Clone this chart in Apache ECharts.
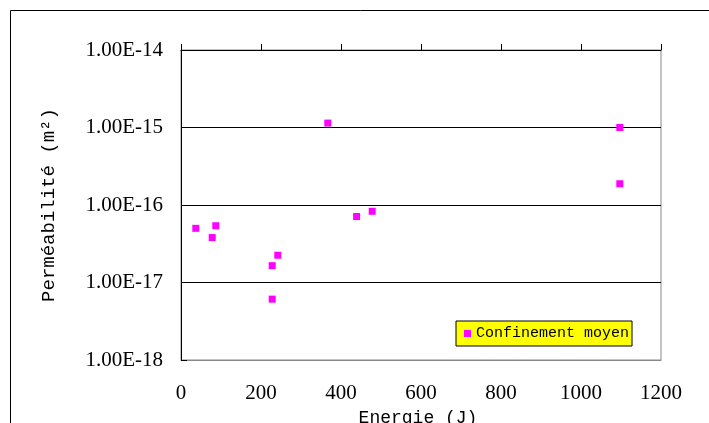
<!DOCTYPE html>
<html>
<head>
<meta charset="utf-8">
<script src="https://cdn.jsdelivr.net/npm/echarts@6/dist/echarts.min.js"></script>
<style>
html,body{margin:0;padding:0;background:#fff;}
#chart{width:709px;height:423px;}
</style>
</head>
<body>
<div id="chart"></div>
<script>
// Data
var seriesName = 'Confinement moyen';
var energy = [37, 78, 87, 228, 242, 228, 367, 439, 478, 1097, 1097];
var permeability = [5.0e-17, 3.8e-17, 5.4e-17, 1.65e-17, 2.25e-17, 6.1e-18, 1.14e-15, 7.1e-17, 8.3e-17, 1.0e-15, 1.88e-16];
var xTicks = [0, 200, 400, 600, 800, 1000, 1200];
var yMin = 1e-18, yMax = 1e-14;

var points = energy.map(function (x, i) { return [x, permeability[i]]; });

var chart = echarts.init(document.getElementById('chart'));
var mono = 'Liberation Mono';
var serif = 'Liberation Serif';

chart.setOption({
  animation: false,
  backgroundColor: '#fff',
  graphic: [{
    type: 'rect', silent: true, z: 0,
    shape: { x: 10.5, y: 10.5, width: 800, height: 600 },
    style: { fill: 'none', stroke: '#000', lineWidth: 1 }
  }],
  grid: {
    left: 181, top: 50, width: 480, height: 310,
    outerBoundsMode: 'none', containLabel: false,
    show: true, borderColor: '#888', borderWidth: 1, backgroundColor: 'transparent'
  },
  legend: {
    left: 456, top: 321,
    backgroundColor: '#ffff00', borderColor: '#000', borderWidth: 1,
    padding: [5, 3, 5, 8],
    itemWidth: 7, itemHeight: 7, itemGap: 4,
    icon: 'rect',
    itemStyle: { opacity: 1 },
    textStyle: { fontFamily: mono, fontSize: 15, color: '#000' },
    data: [seriesName]
  },
  xAxis: [{
    type: 'value', position: 'bottom', min: xTicks[0], max: xTicks[xTicks.length - 1], interval: 200,
    name: 'Energie (J)', nameLocation: 'middle', nameGap: 41,
    nameTextStyle: { fontFamily: mono, fontSize: 18, color: '#000', padding: [0, 6, 0, 0] },
    axisLine: { show: true, lineStyle: { color: '#888', width: 1 } },
    axisTick: { show: false },
    splitLine: { show: false },
    axisLabel: {
      fontFamily: serif, fontSize: 21, color: '#000', margin: 23,
      formatter: function (v) { return String(v); }
    }
  }, {
    type: 'value', position: 'top', min: xTicks[0], max: xTicks[xTicks.length - 1], interval: 200,
    axisLine: { show: true, lineStyle: { color: '#000', width: 1 } },
    axisTick: { show: true, inside: false, length: 6, lineStyle: { color: '#000' } },
    axisLabel: { show: false },
    splitLine: { show: false }
  }],
  yAxis: {
    type: 'log', logBase: 10, min: yMin, max: yMax,
    name: 'Perméabilité (m²)', nameLocation: 'middle', nameGap: 123,
    nameTextStyle: { fontFamily: mono, fontSize: 19, color: '#000' },
    axisLine: { show: true, lineStyle: { color: '#000', width: 1 } },
    axisTick: { show: true, inside: true, length: 6, lineStyle: { color: '#000' } },
    splitLine: { show: true, lineStyle: { color: '#000', width: 1 } },
    axisLabel: {
      fontFamily: serif, fontSize: 21, color: '#000', margin: 18, padding: [5, 0, 0, 0],
      formatter: function (v) {
        var e = Math.round(Math.log10(v));
        return '1.00E' + (e < 0 ? '-' : '+') + Math.abs(e);
      }
    }
  },
  series: [{
    name: seriesName, type: 'scatter', xAxisIndex: 0,
    symbol: 'rect', symbolSize: 7,
    itemStyle: { color: '#ff00ff', opacity: 1 },
    data: points
  }]
});
</script>
</body>
</html>
